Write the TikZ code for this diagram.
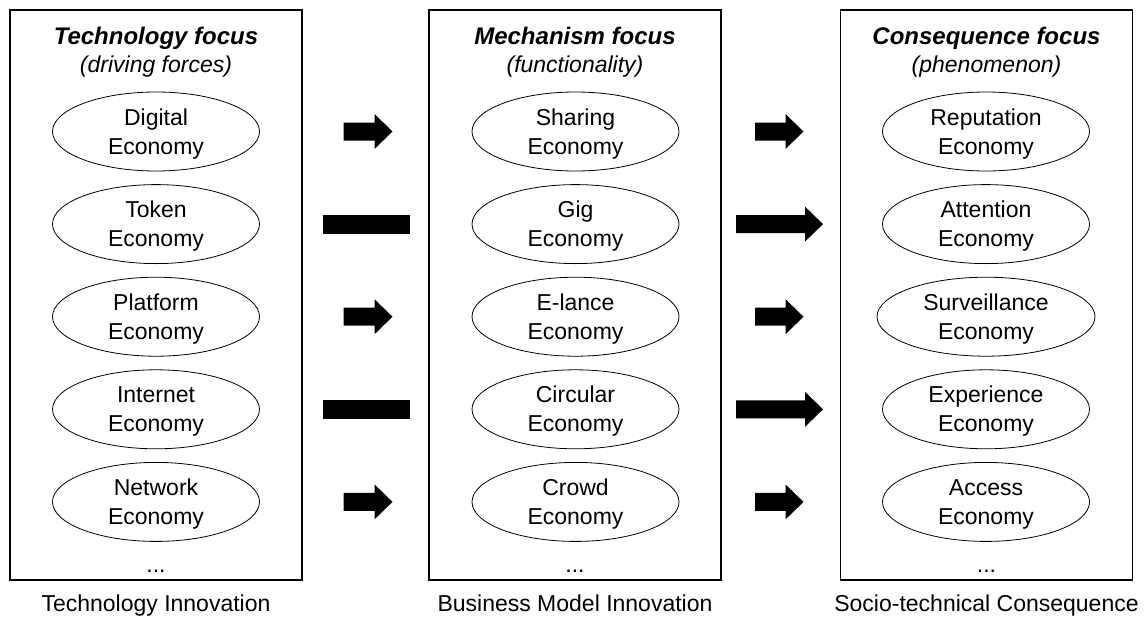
\documentclass[tikz,border=0pt]{standalone}
\usepackage{fontspec}
\setmainfont{Liberation Sans}
\usetikzlibrary{shapes.geometric}

\begin{document}
\begin{tikzpicture}[x=1pt,y=-1pt]
    \pgfmathsetmacro{\dy}{92.6}
    \tikzset{
        panel/.style={draw, line width=1.1pt, minimum width=292pt, minimum height=570pt, inner sep=0pt},
        econ/.style={draw, ellipse, line width=0.8pt, minimum width=207pt, minimum height=79pt,
            inner sep=0pt, align=center, text height=49.8pt, text depth=4.8pt,
            font=\fontsize{23}{29}\selectfont},
        heading/.style={anchor=base, font=\fontsize{24}{29}\selectfont\bfseries\itshape},
        subheading/.style={anchor=base, font=\fontsize{23}{29}\selectfont\itshape},
        caption/.style={anchor=base, font=\fontsize{23}{29}\selectfont},
        pics/fatarrow/.style={code={
            \fill (0,-9) -- (#1-18,-9) -- (#1-18,-17.5) -- (#1,0) -- (#1-18,17.5) -- (#1-18,9) -- (0,9) -- cycle;
        }},
        pics/fatbar/.style={code={\fill (0,-9.5) rectangle (#1,9.5);}}
    }
    \useasboundingbox (0,0) rectangle (1146,619);

    % the three columns
    \foreach \col/\cx/\head/\sub/\foot in {
        tech/156/Technology focus/(driving forces)/Technology Innovation,
        mech/575/Mechanism focus/(functionality)/Business Model Innovation,
        cons/986.5/Consequence focus/(phenomenon)/Socio-technical Consequence}{
        \node[panel] (\col box) at (\cx,295) {};
        \node[heading] (\col head) at (\cx,44) {\head};
        \node[subheading] (\col sub) at (\cx,72.5) {\sub};
        \node[caption] (\col dots) at (\cx,572.5) {...};
        \node[caption] (\col foot) at (\cx,611) {\foot};
    }

    % economies
    \foreach \name [count=\i] in {Digital,Token,Platform,Internet,Network}
        \node[econ] (tech\i) at (156,{131.5+\dy*(\i-1)}) {\name\\Economy};
    \foreach \name [count=\i] in {Sharing,Gig,E-lance,Circular,Crowd}
        \node[econ] (mech\i) at (575.5,{131.5+\dy*(\i-1)}) {\name\\Economy};
    \foreach \name/\w [count=\i] in {Reputation/207,Attention/207,Surveillance/218,Experience/207,Access/207}
        \node[econ, minimum width=\w pt] (cons\i) at (986,{131.5+\dy*(\i-1)}) {\name\\Economy};

    % block arrows between the columns
    \foreach \i in {1,3,5}{
        \pic at (343.5,{131.5+\dy*(\i-1)}) {fatarrow=49};
        \pic at (755,{131.5+\dy*(\i-1)}) {fatarrow=48.5};
    }
    \foreach \i in {2,4}{
        \pic at (322.5,{131.5+\dy*(\i-1)}) {fatbar=87.5};
        \pic at (736,{131.5+\dy*(\i-1)}) {fatarrow=87};
    }
\end{tikzpicture}
\end{document}
